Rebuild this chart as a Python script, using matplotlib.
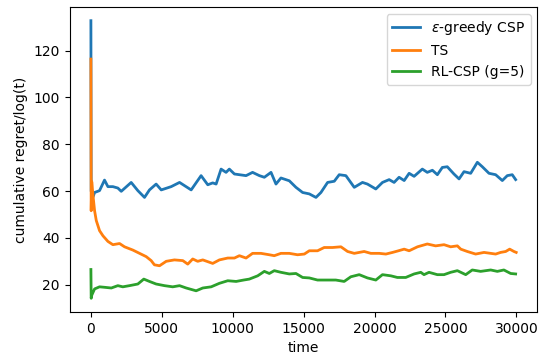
import numpy as np
import matplotlib
matplotlib.use('Agg')
import matplotlib.pyplot as plt

# cumulative regret / log(t) for each policy, sampled along the run
t_eps = [0, 20, 150, 260, 610, 960, 1200, 1550, 1900, 2140, 2840, 3310, 3780,
         4130, 4600, 4960, 5660, 6250, 7070, 7770, 8240, 8590, 8830, 9180, 9530,
         9760, 10120, 10470, 10940, 11400, 11880, 12230, 12700, 13050, 13400,
         13990, 14460, 14930, 15400, 15870, 16220, 16690, 17160, 17510, 17980,
         18570, 19150, 19500, 20090, 20560, 21030, 21380, 21730, 22090, 22440,
         22790, 23370, 23720, 24080, 24430, 24780, 25130, 25600, 25960, 26310,
         26780, 27250, 27600, 28070, 28540, 29010, 29360, 29710, 29950]
eps_greedy = [132.8, 60.0, 57.5, 59.4, 60.2, 64.7, 61.9, 61.9, 61.3, 59.9, 63.7,
              60.2, 57.3, 60.5, 63.0, 60.5, 61.9, 63.7, 60.5, 66.6, 62.7, 63.5,
              63.0, 69.4, 68.0, 69.4, 67.3, 67.0, 66.6, 68.0, 66.6, 65.9, 68.0,
              63.0, 65.6, 64.4, 61.6, 59.4, 58.8, 57.3, 59.4, 63.7, 64.2, 67.0,
              66.6, 61.6, 63.7, 63.0, 60.9, 63.7, 64.9, 63.7, 65.9, 64.5, 67.6,
              66.3, 69.4, 68.0, 68.9, 67.0, 70.1, 70.4, 67.3, 65.2, 68.3, 67.6,
              72.3, 70.4, 67.6, 67.0, 64.5, 66.6, 67.0, 64.9]

t_ts = [0, 20, 60, 150, 260, 380, 610, 850, 1200, 1550, 2020, 2370, 2960, 3430,
        3900, 4250, 4480, 4840, 5310, 5890, 6480, 6830, 7180, 7530, 7890, 8590,
        9060, 9650, 10120, 10470, 10940, 11400, 11990, 12580, 12930, 13400,
        13990, 14570, 15050, 15400, 15980, 16450, 17040, 17630, 18100, 18570,
        19270, 19740, 20330, 20800, 21270, 21690, 22090, 22440, 23030, 23720,
        24310, 24900, 25370, 25840, 26080, 26540, 27130, 27720, 28190, 28540,
        28890, 29250, 29530, 29830, 29990]
ts = [116.4, 51.6, 64.0, 58.0, 51.6, 47.4, 43.1, 40.9, 38.5, 37.1, 37.6, 36.2,
      34.8, 33.4, 32.0, 30.3, 28.5, 28.1, 30.0, 30.6, 30.3, 28.8, 31.0, 30.0,
      30.6, 29.1, 30.6, 31.4, 31.4, 32.4, 31.4, 33.4, 33.4, 32.8, 32.4, 33.4,
      33.4, 32.8, 33.1, 34.5, 34.5, 35.9, 35.9, 36.2, 34.2, 33.4, 34.2, 33.4,
      33.4, 33.1, 33.8, 34.5, 35.2, 34.5, 36.2, 37.4, 36.6, 37.1, 36.2, 36.6,
      35.2, 34.2, 33.1, 33.8, 33.4, 33.1, 33.8, 34.2, 35.2, 34.2, 33.8]

t_rl = [0, 20, 60, 260, 610, 960, 1440, 1900, 2250, 2720, 3310, 3730, 4130,
        4600, 5190, 5770, 6250, 6720, 7420, 7890, 8480, 9060, 9650, 10240,
        10770, 11170, 11760, 12230, 12580, 12930, 13400, 13990, 14460, 14930,
        15400, 15980, 16570, 17270, 17860, 18330, 18920, 19500, 20090, 20560,
        21150, 21610, 22200, 22790, 23260, 23490, 23840, 24430, 24900, 25370,
        25840, 26430, 26890, 27480, 28190, 28660, 29120, 29600, 29950]
rl_csp = [26.5, 14.2, 15.5, 18.2, 19.1, 18.9, 18.6, 19.6, 19.1, 19.6, 20.3,
          22.4, 21.4, 20.3, 19.6, 19.1, 19.6, 18.6, 17.4, 18.6, 19.1, 20.6,
          21.7, 21.4, 22.0, 22.4, 23.8, 25.7, 24.8, 26.0, 25.3, 24.6, 24.8,
          23.1, 22.9, 22.0, 22.0, 22.0, 21.4, 23.4, 24.3, 22.9, 22.0, 24.3,
          23.8, 23.1, 23.1, 24.6, 25.3, 24.3, 25.3, 24.3, 24.3, 25.3, 26.0,
          24.3, 26.3, 25.7, 26.3, 25.7, 26.3, 24.8, 24.6]

fig = plt.figure(figsize=(5.44, 3.58), dpi=100)
ax = fig.add_axes([0.128, 0.128, 0.86, 0.853])

ax.plot(t_eps, eps_greedy, lw=2.0, label=r'$\varepsilon$-greedy CSP')
ax.plot(t_ts, ts, lw=2.0, label='TS')
ax.plot(t_rl, rl_csp, lw=2.0, label='RL-CSP (g=5)')

ax.set_xticks(np.arange(0, 30001, 5000))
ax.set_yticks(np.arange(20, 121, 20))
ax.set_xlabel('time')
ax.set_ylabel('cumulative regret/log(t)')
ax.legend(loc='upper right')

fig.savefig('out.png', dpi=100)
